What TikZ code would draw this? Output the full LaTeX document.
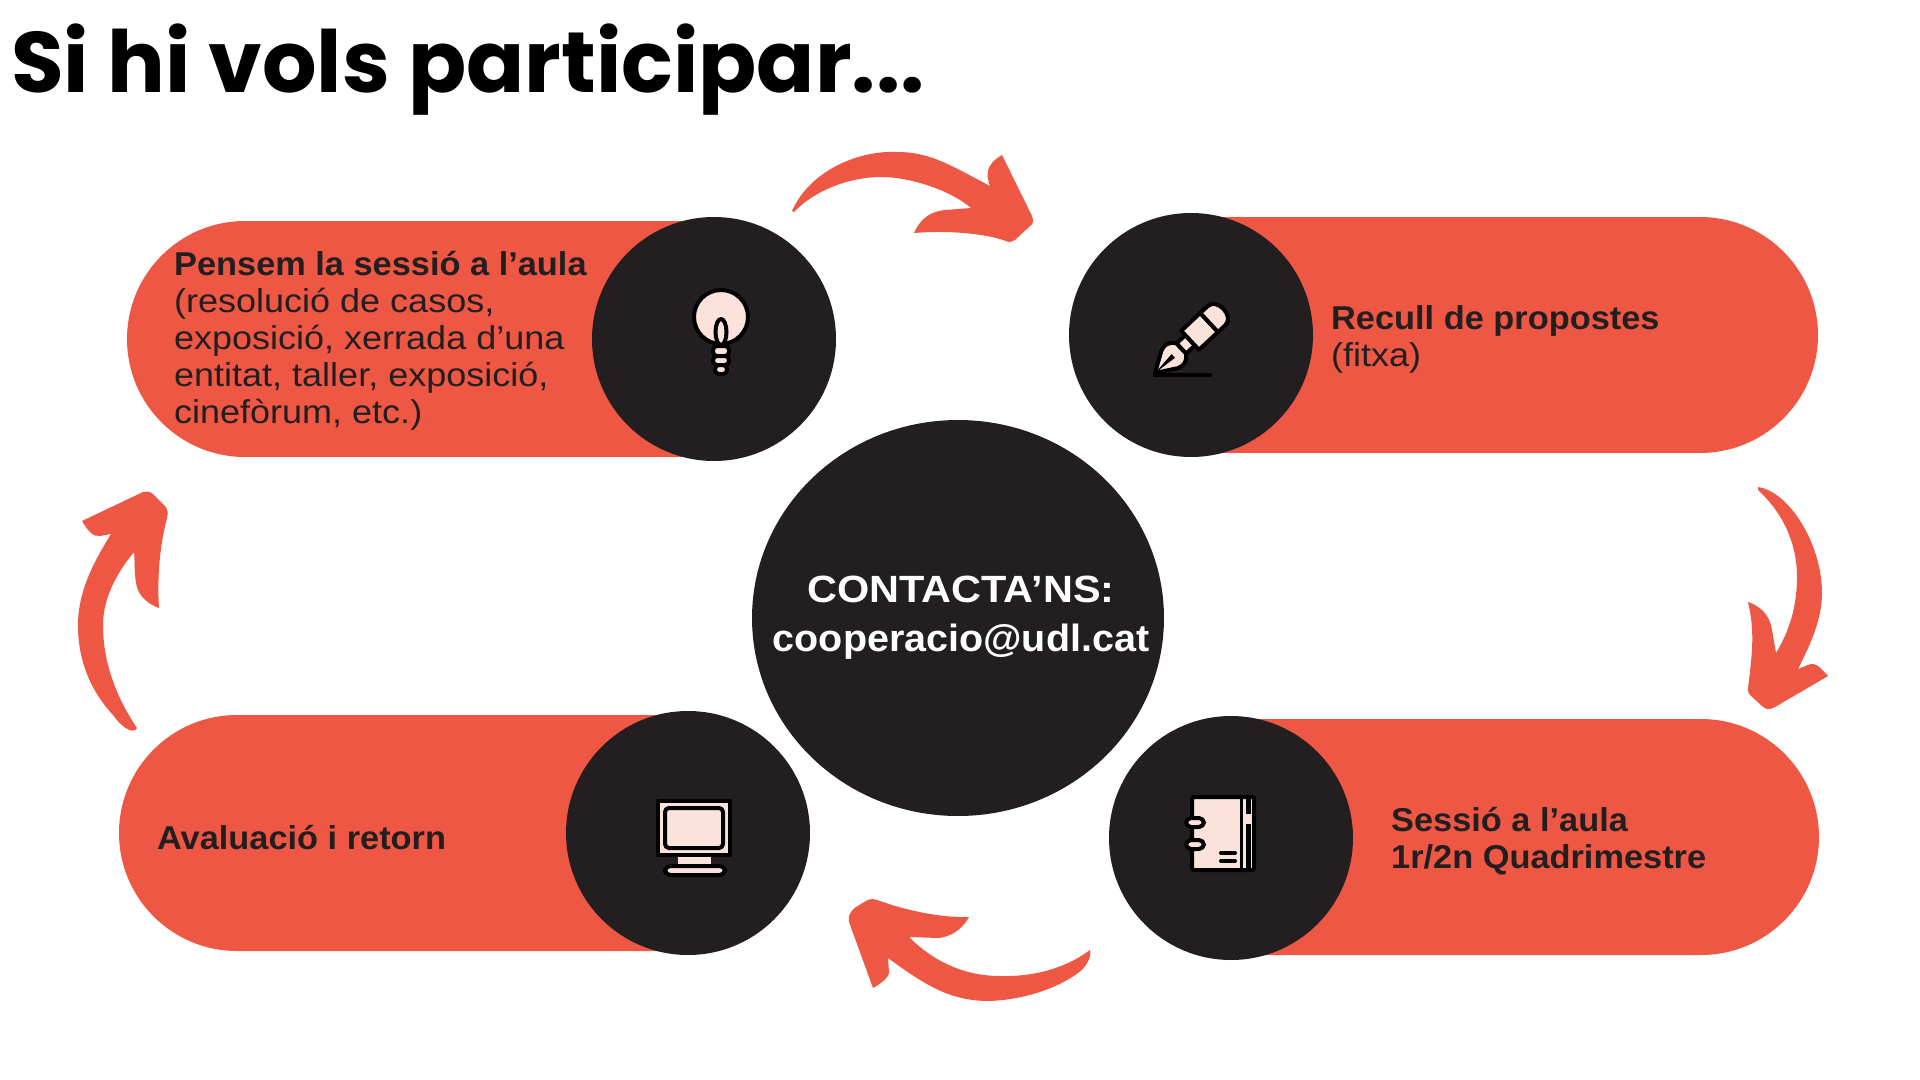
\documentclass[tikz,border=0pt]{standalone}
\usepackage{fontspec}
\setmainfont[FakeStretch=1.09,BoldFeatures={FakeStretch=1.04}]{Liberation Sans}
\newfontfamily\titlefont{Poppins}
\usetikzlibrary{shapes.misc,shapes.geometric}
\definecolor{coral}{HTML}{EE5744}
\definecolor{ink}{HTML}{231F20}
\definecolor{cream}{HTML}{FBE3DC}
\tikzset{
  pillbox/.style={rounded rectangle,fill=coral,inner sep=0pt,minimum height=11.8cm},
  disc/.style={circle,fill=ink,inner sep=0pt,minimum size=12.2cm},
  cardtext/.style={anchor=west,inner sep=0pt,align=left,text=ink,font=\fontsize{47}{52.6}\selectfont},
  sweep/.style={fill=coral},
  icon/.style={fill=cream,draw=black,line width=0.2cm,line join=round},
  iconline/.style={draw=black,line width=0.2cm,line cap=round},
}
\begin{document}
\begin{tikzpicture}[x=0.05cm,y=-0.05cm]
\useasboundingbox[fill=white] (0,0) rectangle (1920,1080);
% title
\node[anchor=base west,inner sep=0pt,text=black,font=\titlefont\fontsize{122}{122}\selectfont\bfseries] (title) at (11,92) {Si hi vols participar...};
% pills
\node[pillbox,rounded rectangle right arc=none,minimum width=29.4cm] (p1) at (421,339) {};
\node[pillbox,rounded rectangle left arc=none,minimum width=31.3cm] (p2) at (1505,335) {};
\node[pillbox,rounded rectangle left arc=none,minimum width=29.4cm] (p3) at (1525,837) {};
\node[pillbox,rounded rectangle right arc=none,minimum width=28.5cm] (p4) at (404,833) {};
% discs
\node[disc] (d1) at (714,339) {};
\node[disc] (d2) at (1191,335) {};
\node[disc] (d3) at (1231,838) {};
\node[disc] (d4) at (688,833) {};
\node[ellipse,fill=ink,inner sep=0pt,minimum width=20.6cm,minimum height=19.8cm] (hub) at (958,618) {};
% texts
\node[cardtext] (t1) at (174,341) {\textbf{Pensem la sessió a l’aula}\\(resolució de casos,\\exposició, xerrada d’una\\entitat, taller, exposició,\\cinefòrum, etc.)};
\node[cardtext] (t2) at (1331,339) {\textbf{Recull de propostes}\\(fitxa)};
\node[cardtext] (t3) at (1391,841) {\textbf{Sessió a l’aula}\\\textbf{1r/2n Quadrimestre}};
\node[cardtext] (t4) at (157,838) {\textbf{Avaluació i retorn}};
\node[anchor=center,inner sep=0pt,align=center,text=white,font=\fontsize{54}{69.7}\selectfont\bfseries] (hubt) at (961,618) {\scalebox{1.05}[1]{CONTACTA’NS:}\\cooperacio@udl.cat};
% sweeping arrows
\path[sweep] (792,211) .. controls (810,170) and (860,150) .. (897,152) .. controls (930,152) and (950,165) .. (990,186) .. controls (986,175) and (985,165) .. (1002,155) -- (1032,216) .. controls (1034,222) and (1033,224) .. (1030,226) -- (1015,240) .. controls (1010,243) and (1008,242) .. (1003,240) .. controls (985,234) and (950,230) .. (914,233) .. controls (920,220) and (928,212) .. (945,210) -- (971,208) .. controls (950,190) and (910,177) .. (881,177) .. controls (850,177) and (815,190) .. (794,212) -- cycle;
\path[sweep] (1758,487) .. controls (1790,492) and (1822,545) .. (1822,593) .. controls (1822,620) and (1810,645) .. (1798,669) -- (1808,665) .. controls (1815,662) and (1818,665) .. (1828,676) -- (1775,707) .. controls (1770,710) and (1766,710) .. (1762,706) -- (1750,695) .. controls (1747,692) and (1748,688) .. (1749,680) .. controls (1752,655) and (1755,630) .. (1748,602) .. controls (1760,606) and (1770,615) .. (1772,630) -- (1776,653) .. controls (1790,630) and (1797,605) .. (1797,577) .. controls (1797,540) and (1780,510) .. (1758,490) -- cycle;
\path[sweep] (1090,950) .. controls (1092,958) and (1085,968) .. (1078,973) .. controls (1055,990) and (1020,1000) .. (989,1001) .. controls (950,1001) and (925,985) .. (888,958) -- (889,972) .. controls (889,978) and (880,984) .. (873,988) -- (849,922) .. controls (848,915) and (850,912) .. (856,907) -- (866,901) .. controls (870,898) and (875,899) .. (880,901) .. controls (905,910) and (940,918) .. (969,917) .. controls (965,925) and (955,936) .. (939,938) -- (909,937) .. controls (930,958) and (960,976) .. (1000,976) .. controls (1040,977) and (1070,965) .. (1090,950) -- cycle;
\path[sweep] (135,730) .. controls (130,733) and (120,725) .. (113,715) .. controls (90,690) and (78,660) .. (78,625) .. controls (78,590) and (95,560) .. (111,534) -- (100,536) .. controls (93,537) and (88,531) .. (82,521) -- (143,492) .. controls (148,491) and (151,492) .. (154,495) -- (165,506) .. controls (168,510) and (168,513) .. (167,518) .. controls (160,545) and (157,575) .. (159,608) .. controls (150,605) and (138,597) .. (136,583) .. controls (134,570) and (135,560) .. (134,552) .. controls (115,575) and (103,600) .. (103,625) .. controls (103,665) and (118,700) .. (137,728) -- cycle;
% bulb
\path[icon,rounded corners=0.2cm] (713,346) rectangle (729,356);
\path[icon,rounded corners=0.2cm] (713,356) rectangle (729,365);
\path[icon,rounded corners=0.2cm] (715,365) rectangle (727,374);
\path[icon] (721,317) circle (27);
\path[icon] (721,332) ellipse (5.5 and 13);
% pen
\begin{scope}[shift={(1155,373)},rotate=43]
\path[icon] (0,0) -- (20,-12) .. controls (26,-15) and (32,-13) .. (36,-7) -- (36,7) .. controls (32,13) and (26,15) .. (20,12) -- cycle;
\path[fill=black] (0,0) -- (25,-2.5) -- (25,2.5) -- cycle;
\path[icon] (36,-7) rectangle (48,7);
\path[icon] (48,-13) rectangle (74,13);
\path[icon] (74,-13) -- (84,-13) .. controls (97,-13) and (97,13) .. (84,13) -- (74,13) -- cycle;
\end{scope}
\coordinate (penlinea) at (1155,375);
\coordinate (penlineb) at (1210,375);
\draw[iconline] (penlinea) -- (penlineb);
% monitor
\path[icon] (658,801) rectangle (730,855);
\path[icon,rounded corners=0.2cm] (665,808) rectangle (723,848);
\path[fill=cream] (678,857) rectangle (711,864);
\path[icon,rounded corners=0.3cm] (665,866) rectangle (725,875);
% notebook
\path[icon,rounded corners=0.1cm] (1192,797) rectangle (1254,870);
\path[fill=black] (1240,797) rectangle (1243,870);
\path[fill=black] (1246,799) rectangle (1251,814);
\path[fill=black] (1246,824) rectangle (1251,868);
\path[icon,rounded corners=0.25cm] (1186,818) rectangle (1204,827);
\path[icon,rounded corners=0.25cm] (1186,840) rectangle (1204,849);
\coordinate (nba) at (1221,853); \coordinate (nbb) at (1235,853);
\coordinate (nbc) at (1221,861); \coordinate (nbd) at (1235,861);
\draw[iconline] (nba) -- (nbb);
\draw[iconline] (nbc) -- (nbd);
\end{tikzpicture}
\end{document}
